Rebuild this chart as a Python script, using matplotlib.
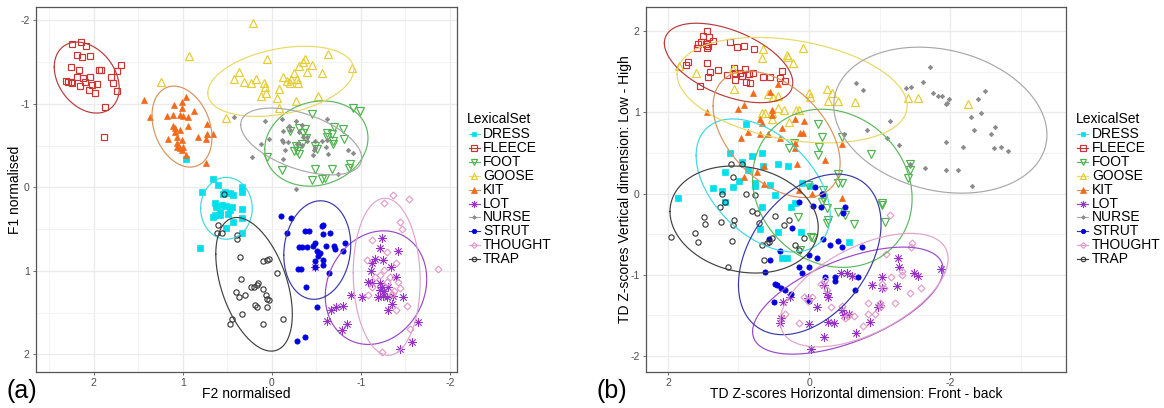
import numpy as np
import matplotlib
matplotlib.use("Agg")
import matplotlib.pyplot as plt
from matplotlib.lines import Line2D

plt.rcParams['font.family'] = ['Liberation Sans', 'DejaVu Sans']

SETS = ["DRESS", "FLEECE", "FOOT", "GOOSE", "KIT", "LOT", "NURSE", "STRUT", "THOUGHT", "TRAP"]

# ---------------- Panel (a): F2 normalised (x), F1 normalised (y) ----------------
A_F2 = {
    "DRESS": [0.66,0.61,0.78,0.55,0.44,0.47,0.34,0.34,0.64,0.63,0.56,0.51,0.45,0.47,0.64,0.58,0.49,0.33,0.33,0.66,0.44,0.51,0.33,0.81,0.53,0.58,0.96],
    "FLEECE": [2.24,2.15,2.09,2.19,2.13,2.04,2.26,2.17,1.94,1.92,1.70,1.74,2.31,2.26,2.19,2.12,2.04,2.10,2.02,1.97,2.16,2.06,1.99,1.81,1.79,1.74,1.87,1.89,2.24,2.29],
    "FOOT": [-0.45,-0.91,-0.99,-0.20,-0.31,-0.37,-0.35,-0.38,-0.62,-0.70,-0.80,-0.67,-0.62,-0.69,-0.69,-0.81,-0.27,-0.34,-0.28,-0.25,-0.31,-0.48,-0.51,-0.88,-0.87,0.06,-0.11,-0.49,-0.67,-0.45,-0.56,-0.60],
    "GOOSE": [0.06,-0.37,-0.35,-0.45,-0.63,-0.90,-0.30,-0.39,-0.56,0.37,0.43,0.31,0.24,0.18,0.09,0.08,0.12,0.07,-0.08,-0.12,-0.17,-0.22,-0.25,-0.28,-0.29,-0.20,-0.06,-0.08,-0.27,-0.52,0.52,0.21,0.93,1.25],
    "KIT": [1.44,1.37,1.18,1.11,1.10,1.01,0.96,1.01,1.00,1.03,0.94,0.87,1.11,1.09,1.03,0.94,0.73,1.17,1.07,1.01,1.07,1.03,1.00,1.01,0.97,0.83,0.73,0.66,0.74,0.74,1.07,1.09],
    "LOT": [-1.24,-1.22,-1.42,-1.16,-1.25,-1.34,-1.11,-1.40,-1.08,-1.13,-1.21,-1.24,-1.26,-1.25,-1.19,-1.29,-1.36,-1.47,-1.35,-1.31,-0.89,-1.01,-0.72,-0.80,-0.66,-0.62,-0.84,-0.79,-1.64,-1.57,-1.44,-0.49,-1.13,-1.30,-1.21],
    "NURSE": [0.43,0.08,-0.11,-0.27,-0.19,-0.34,-0.62,-0.12,-0.20,-0.31,-0.39,-0.35,-0.48,-0.56,-0.62,-0.40,0.03,0.12,-0.11,-0.13,-0.18,-0.28,-0.34,-0.48,-0.47,-0.61,0.22,-0.12,-0.15,-0.46,-0.63,-0.85,-0.91,-0.74,-0.27],
    "STRUT": [-0.10,-0.21,-0.17,-0.37,-0.42,-0.56,-0.58,-0.58,-0.65,-0.82,-0.80,-0.70,-0.71,-0.61,-0.48,-0.46,-0.40,-0.34,-0.31,-0.51,-0.54,-0.52,-0.48,-0.57,-0.58,-0.49,-0.33,-0.29,-0.64,-0.38,-0.51,-0.28,-0.37],
    "THOUGHT": [-1.36,-1.54,-1.26,-1.44,-1.46,-1.87,-1.07,-1.29,-1.39,-1.26,-1.33,-1.21,-1.42,-1.44,-1.37,-1.12,-1.35,-1.52,-1.40,-1.08,-1.55,-1.24,-1.12,-1.29,-1.16],
    "TRAP": [0.54,0.60,0.62,0.56,0.39,0.39,0.36,0.10,0.06,0.03,-0.06,0.35,0.16,0.17,0.24,0.20,0.40,0.37,0.30,0.10,0.07,0.06,0.03,0.19,0.17,0.06,0.33,0.45,0.47,0.10,-0.12],
}
A_F1 = {
    "DRESS": [-0.10,-0.03,0.06,0.08,0.09,0.07,0.00,0.06,0.19,0.24,0.21,0.22,0.24,0.27,0.33,0.33,0.32,0.26,0.37,0.36,0.42,0.48,0.54,0.72,0.06,0.30,-0.34],
    "FLEECE": [-1.72,-1.74,-1.69,-1.58,-1.56,-1.57,-1.44,-1.41,-1.41,-1.41,-1.46,-1.39,-1.27,-1.26,-1.32,-1.31,-1.32,-1.26,-1.23,-1.24,-1.21,-1.17,-1.13,-1.32,-1.25,-1.15,-0.96,-0.60,-1.25,-1.26],
    "FOOT": [-0.88,-0.95,-0.91,-0.67,-0.71,-0.70,-0.65,-0.59,-0.65,-0.72,-0.70,-0.64,-0.60,-0.55,-0.52,-0.58,-0.49,-0.52,-0.43,-0.43,-0.40,-0.49,-0.46,-0.28,-0.23,-0.36,-0.21,-0.22,-0.22,-0.09,-0.10,-0.11],
    "GOOSE": [-1.54,-1.54,-1.50,-1.46,-1.60,-1.43,-1.45,-1.38,-1.37,-1.38,-1.30,-1.26,-1.25,-1.30,-1.25,-1.20,-1.09,-1.13,-1.18,-1.32,-1.28,-1.30,-1.37,-1.30,-1.25,-1.25,-1.07,-0.95,-1.03,-1.09,-0.83,-1.97,-1.57,-1.26],
    "KIT": [-1.05,-0.84,-0.85,-0.87,-0.99,-1.02,-1.08,-0.95,-0.85,-0.87,-0.84,-0.91,-0.73,-0.71,-0.69,-0.73,-0.76,-0.58,-0.60,-0.57,-0.48,-0.47,-0.48,-0.45,-0.39,-0.60,-0.64,-0.64,-0.58,-0.29,-0.53,-0.66],
    "LOT": [0.60,0.73,0.76,0.86,0.87,0.95,1.00,1.07,1.13,1.15,1.15,1.19,1.24,1.30,1.31,1.31,1.30,1.31,1.39,1.47,1.29,1.31,1.43,1.42,1.47,1.60,1.63,1.71,1.61,1.85,1.94,0.95,0.90,1.19,1.23],
    "NURSE": [-0.84,-0.80,-0.82,-0.79,-0.73,-0.75,-0.82,-0.67,-0.69,-0.66,-0.60,-0.60,-0.55,-0.55,-0.57,-0.55,-0.58,-0.52,-0.57,-0.54,-0.54,-0.52,-0.51,-0.47,-0.45,-0.48,-0.37,-0.34,-0.45,-0.39,-0.40,-0.45,-0.41,-0.16,0.02],
    "STRUT": [0.34,0.37,0.54,0.52,0.52,0.46,0.45,0.56,0.55,0.66,0.76,0.70,0.74,0.70,0.67,0.70,0.71,0.71,0.71,0.76,0.79,0.82,0.88,0.87,0.93,0.95,0.98,0.98,1.03,1.19,1.43,1.84,1.79],
    "THOUGHT": [0.09,0.14,0.19,0.42,0.50,0.98,0.87,0.77,0.91,0.99,1.07,1.05,1.13,1.21,1.24,1.19,1.28,1.42,1.47,1.29,1.70,1.97,0.63,1.13,1.07],
    "TRAP": [0.08,0.45,0.55,0.55,0.57,0.62,0.83,0.88,0.87,0.86,1.03,1.10,1.15,1.17,1.19,1.19,1.25,1.31,1.29,1.22,1.29,1.34,1.35,1.41,1.43,1.43,1.51,1.57,1.64,1.63,1.58],
}
# ellipse (centre x, centre y, half-range x, half-range y, correlation)
A_ELLIPSE = {
    "DRESS": (0.51, 0.25, 0.29, 0.37, 0.0),
    "FLEECE": (2.08, -1.315, 0.365, 0.425, -0.3),
    "FOOT": (-0.50, -0.525, 0.58, 0.51, 0.13),
    "GOOSE": (-0.10, -1.27, 0.82, 0.42, 0.33),
    "KIT": (1.01, -0.728, 0.337, 0.485, -0.27),
    "LOT": (-1.17, 1.20, 0.57, 0.68, 0.15),
    "NURSE": (-0.33, -0.55, 0.68, 0.40, -0.5),
    "STRUT": (-0.51, 0.75, 0.376, 0.59, 0.1),
    "THOUGHT": (-1.29, 1.07, 0.376, 0.94, -0.05),
    "TRAP": (0.20, 1.16, 0.43, 0.80, -0.45),
}

# ---------------- Panel (b): TD Z-scores ----------------
B_H = {
    "DRESS": [1.86,1.36,1.23,1.19,1.08,0.99,0.86,0.76,0.76,0.67,0.55,0.48,0.44,0.30,0.20,0.25,0.69,0.44,0.38,0.31,0.11,-0.57,-0.01,0.10,0.65,0.81,0.95,1.12,0.89,0.67,1.19],
    "FLEECE": [1.44,1.50,1.42,1.36,1.53,1.46,1.43,1.59,1.57,1.44,1.12,1.02,0.92,0.78,1.71,1.74,1.44,1.40,1.29,1.16,1.06,1.05,0.95,0.91,0.85,0.79,0.89,0.84,0.65,0.55,0.38,0.41,0.34,1.43,1.54,1.05,0.98],
    "FOOT": [-0.13,-0.18,-0.47,-0.14,-0.13,0.28,0.21,-0.88,-0.41,-1.43,-1.43,-1.40,-0.41,-0.47,0.01,-0.20,-0.20,-0.18,-0.25,-0.27,0.16,-0.51,-0.64,-1.03,-1.03,-0.03,-0.06,-0.25,-0.41,-1.08,0.13],
    "GOOSE": [1.84,1.60,1.06,0.65,0.67,0.31,0.30,0.23,0.08,0.00,-0.01,-0.25,-0.33,-0.27,-0.41,-0.65,0.58,0.51,0.44,0.67,0.62,0.52,0.44,0.35,0.18,0.14,0.52,0.28,1.08,-1.40,-1.54,-2.25],
    "KIT": [1.44,1.01,0.92,0.79,0.55,0.44,0.52,0.52,0.69,0.67,0.38,0.20,0.07,0.08,0.13,0.96,0.86,0.69,0.58,0.41,0.20,0.20,-0.47,-0.23,0.17,0.64,0.92,0.74,0.64,0.14,-0.04,-0.47],
    "LOT": [-1.26,-1.27,-1.03,-0.89,-1.03,-1.25,-1.49,-1.54,-1.87,-0.45,-0.54,-0.61,-0.21,-0.25,-0.27,-0.11,0.01,0.37,0.27,-0.47,-0.57,-0.50,-1.01,-0.98,-0.86,-0.27,-0.35,0.00,0.40,0.41,-0.21,-0.67,-0.03],
    "NURSE": [-1.71,-1.61,-1.37,-1.44,-1.76,-1.83,-1.88,-1.98,-1.94,-1.96,-2.49,-2.39,-2.29,-2.44,-2.34,-2.63,-2.58,-1.94,-2.18,-2.62,-2.72,-2.82,-1.64,-1.94,-2.11,-2.31,-1.15,-1.10,-1.27,-1.43,-0.67,-0.76,-0.50,-0.82],
    "STRUT": [-0.08,-0.18,-0.20,0.14,-0.06,-0.17,-0.51,-0.48,0.24,0.57,0.55,0.62,0.41,0.00,-0.11,-0.20,-0.30,-0.41,-0.47,-0.75,0.14,0.10,0.00,-0.23,-0.37,-0.37,-0.69,-0.65,0.48,0.45,0.40,0.34,0.25,0.50,0.00],
    "THOUGHT": [-1.15,-1.46,-1.44,-1.32,-1.16,-1.32,-1.03,-1.06,-1.59,-1.43,-1.22,-1.01,-0.84,-0.84,-0.93,-0.76,-0.23,-0.17,-0.25,0.07,-0.04,0.01,0.34,0.14,-0.31,-0.47,-0.55,-0.64,-0.51,-1.09,-1.02],
    "TRAP": [1.10,0.95,1.08,1.23,1.19,1.26,0.89,0.76,0.81,0.74,1.49,1.47,1.25,1.06,1.08,1.61,1.57,1.95,1.09,0.48,0.28,0.35,0.71,0.52,0.57,0.59,0.67,0.07,0.20,0.14,0.64,1.15],
}
B_V = {
    "DRESS": [-0.06,0.07,0.03,-0.11,0.08,0.16,0.29,0.13,0.09,-0.16,0.11,-0.02,0.36,0.34,-0.12,-0.17,-0.44,-0.47,-0.79,-0.79,-0.48,-0.60,0.09,0.13,0.34,0.46,0.39,0.50,0.86,0.50,0.26],
    "FLEECE": [2.00,1.94,1.93,1.88,1.87,1.85,1.82,1.79,1.85,1.79,1.87,1.81,1.82,1.78,1.62,1.59,1.61,1.50,1.52,1.46,1.55,1.40,1.45,1.53,1.47,1.49,1.37,1.36,1.44,1.44,1.51,1.42,1.39,1.44,1.32,1.49,1.49],
    "FOOT": [0.86,0.70,0.70,0.57,0.47,0.56,0.62,0.49,0.24,0.37,0.29,0.19,0.13,0.13,0.10,0.04,-0.05,-0.10,-0.18,-0.33,-0.29,-0.27,-0.37,-0.12,-0.14,-0.54,-0.55,-0.36,-0.23,-0.35,-0.70],
    "GOOSE": [1.57,1.49,1.29,1.78,1.67,1.71,1.68,1.61,1.80,1.24,1.19,1.29,1.24,1.14,1.14,1.13,1.23,1.19,1.20,0.99,0.99,0.99,1.06,1.03,1.03,1.03,0.92,0.88,1.53,1.18,1.18,1.10],
    "KIT": [1.00,1.04,1.09,1.24,1.25,1.35,1.03,0.97,0.92,0.87,0.81,0.92,0.89,0.75,0.75,0.68,0.76,0.74,0.74,0.68,0.62,0.56,0.61,0.41,0.37,0.34,0.21,0.26,0.12,0.04,-0.01,-0.06],
    "LOT": [-0.79,-0.90,-1.03,-1.13,-1.16,-1.14,-0.98,-1.02,-0.93,-0.98,-0.98,-1.02,-1.13,-1.22,-1.28,-1.40,-1.29,-1.34,-1.28,-1.43,-1.48,-1.50,-1.38,-1.40,-1.58,-1.58,-1.60,-1.61,-1.54,-1.60,-1.77,-1.72,-1.92],
    "NURSE": [1.56,1.37,1.30,1.31,1.24,1.20,1.20,1.16,1.11,1.12,1.26,1.16,0.94,0.99,0.78,0.82,0.74,0.63,0.57,0.56,0.58,0.52,0.31,0.29,0.29,0.09,0.89,0.68,0.60,0.37,1.36,1.28,0.74,0.78],
    "STRUT": [0.08,0.00,-0.01,-0.11,-0.15,-0.17,-0.16,-0.24,-0.43,-0.56,-0.82,-0.97,-0.71,-0.76,-0.80,-0.56,-0.63,-0.59,-0.66,-0.66,-0.91,-0.98,-0.91,-1.03,-1.03,-1.08,-1.03,-1.19,-1.11,-1.13,-1.17,-1.19,-1.24,-1.34,-1.32],
    "THOUGHT": [-0.27,-0.61,-0.66,-0.95,-1.03,-1.00,-1.12,-1.16,-1.16,-1.23,-1.35,-1.35,-1.35,-1.48,-1.48,-1.63,-1.07,-1.11,-1.19,-1.28,-1.28,-1.32,-1.48,-1.60,-1.40,-1.39,-1.51,-1.51,-1.54,-0.75,-1.39],
    "TRAP": [0.37,0.36,0.20,0.00,-0.10,-0.16,0.00,-0.02,-0.21,-0.24,-0.29,-0.38,-0.35,-0.33,-0.39,-0.49,-0.60,-0.54,-0.59,-0.28,-0.32,-0.39,-0.36,-0.55,-0.60,-0.61,-0.64,-0.55,-0.63,-0.70,-0.82,-0.90],
}
B_ELLIPSE = {
    "DRESS": (0.65, 0.10, 0.95, 0.82, 0.45),
    "FLEECE": (1.14, 1.61, 0.91, 0.49, 0.5),
    "FOOT": (-0.33, 0.065, 1.13, 0.975, 0.13),
    "GOOSE": (0.24, 1.275, 1.63, 0.65, 0.3),
    "KIT": (0.46, 0.73, 0.90, 0.78, 0.45),
    "LOT": (-0.55, -1.32, 1.35, 0.66, -0.58),
    "NURSE": (-1.86, 0.905, 1.51, 0.90, 0.2),
    "STRUT": (-0.01, -0.75, 1.01, 0.99, -0.38),
    "THOUGHT": (-0.78, -1.19, 1.19, 0.70, -0.55),
    "TRAP": (0.92, -0.32, 1.05, 0.66, 0.15),
}

A_XTICKS = [2, 1, 0, -1, -2]
A_YTICKS = [-2, -1, 0, 1, 2]
B_XTICKS = [2, 0, -2]
B_YTICKS = [-2, -1, 0, 1, 2]

# ---------------- styles ----------------
MARK = {
    "DRESS": dict(marker='s', fill=True, color='#00E0EC', ms=4.2, mew=0.5),
    "FLEECE": dict(marker='s', fill=False, color='#CC3333', ms=4.7, mew=0.85),
    "FOOT": dict(marker='v', fill=False, color='#4DB34D', ms=5.4, mew=0.85),
    "GOOSE": dict(marker='^', fill=False, color='#E6CC2E', ms=5.4, mew=0.85),
    "KIT": dict(marker='^', fill=True, color='#F26A1B', ms=5.0, mew=0.5),
    "LOT": dict(marker=(8, 2, 0), fill=False, color='#9632C8', ms=6.0, mew=0.6),
    "NURSE": dict(marker='D', fill=True, color='#8A8A8A', ms=2.3, mew=0.5),
    "STRUT": dict(marker='o', fill=True, color='#0000E0', ms=3.8, mew=0.5),
    "THOUGHT": dict(marker='D', fill=False, color='#E59CC8', ms=3.5, mew=0.85),
    "TRAP": dict(marker='o', fill=False, color='#333333', ms=3.8, mew=0.8),
}
ELL_COLOR = {
    "DRESS": '#3CD8E2', "FLEECE": '#B83A3A', "FOOT": '#5CB85C', "GOOSE": '#EAD860',
    "KIT": '#D9925A', "LOT": '#9A48C8', "NURSE": '#A8A8A8', "STRUT": '#3838A8',
    "THOUGHT": '#E2A2CC', "TRAP": '#404040',
}

W, H = 1164, 408
fig = plt.figure(figsize=(W / 100, H / 100), dpi=100)


def px_axes(l, t, r, b):
    return fig.add_axes([l / W, 1 - b / H, (r - l) / W, (b - t) / H])


def draw_points(ax, xs, ys):
    for s in SETS:
        st = MARK[s]
        ax.plot(xs[s], ys[s], linestyle='none', marker=st['marker'], ms=st['ms'],
                mec=st['color'], mfc=st['color'] if st['fill'] else 'none',
                mew=st['mew'], zorder=3)


def draw_ellipses(ax, params):
    t = np.linspace(0, 2 * np.pi, 240)
    for s in SETS:
        cx, cy, sx, sy, rho = params[s]
        ex = cx + sx * np.cos(t)
        ey = cy + sy * (rho * np.cos(t) + np.sqrt(1 - rho ** 2) * np.sin(t))
        ax.plot(ex, ey, color=ELL_COLOR[s], lw=0.85, zorder=4)


def style_axes(ax, xlim, ylim, xt, yt, xminor, yminor):
    ax.set_xlim(*xlim)
    ax.set_ylim(*ylim)
    ax.set_xticks(xt)
    ax.set_xticklabels([str(v) for v in xt])
    ax.set_yticks(yt)
    ax.set_yticklabels([str(v) for v in yt])
    ax.set_xticks(xminor, minor=True)
    ax.set_yticks(yminor, minor=True)
    ax.grid(which='major', color='#EBEBEB', lw=1.0)
    ax.grid(which='minor', color='#F3F3F3', lw=0.7)
    ax.set_axisbelow(True)
    ax.tick_params(which='major', length=2.5, width=0.5, color='#333333',
                   labelsize=7.5, labelcolor='#4D4D4D', pad=2)
    ax.tick_params(which='minor', length=0)
    for sp in ax.spines.values():
        sp.set_color('#555555')
        sp.set_linewidth(0.9)


# Panel (a)
axA = px_axes(36, 7, 457, 372)
draw_points(axA, A_F2, A_F1)
draw_ellipses(axA, A_ELLIPSE)
style_axes(axA, (2.65, -2.08), (2.21, -2.16), A_XTICKS, A_YTICKS,
           [2.5, 1.5, 0.5, -0.5, -1.5], [-1.5, -0.5, 0.5, 1.5])
axA.set_xlabel("F2 normalised", fontsize=10)
axA.set_ylabel("F1 normalised", fontsize=10)
axA.xaxis.set_label_coords(0.5, -0.041)
axA.yaxis.set_label_coords(-0.033, 0.5)

# Panel (b)
axB = px_axes(646, 7, 1066, 372)
draw_points(axB, B_H, B_V)
draw_ellipses(axB, B_ELLIPSE)
style_axes(axB, (2.31, -3.64), (-2.20, 2.30), B_XTICKS, B_YTICKS,
           [1, -1, -3], [-1.5, -0.5, 0.5, 1.5])
axB.set_xlabel("TD Z-scores Horizontal dimension: Front - back", fontsize=10)
axB.set_ylabel("TD Z-scores Vertical dimension: Low - High", fontsize=10)
axB.xaxis.set_label_coords(0.5, -0.041)
axB.yaxis.set_label_coords(-0.033, 0.5)


# legends (drawn manually to match ggplot's compact layout)
def draw_legend(title_x, key_x, text_x):
    fig.text(title_x / W, 1 - 119 / H, "LexicalSet", fontsize=10, va='center', ha='left')
    for i, s in enumerate(SETS):
        yy = 1 - (134 + 13.9 * i) / H
        st = MARK[s]
        fig.add_artist(Line2D([(key_x - 5.5) / W, (key_x + 5.5) / W], [yy, yy],
                              transform=fig.transFigure, color=ELL_COLOR[s], lw=0.85))
        fig.add_artist(Line2D([key_x / W], [yy], transform=fig.transFigure,
                              linestyle='none', marker=st['marker'], ms=st['ms'] * 0.85,
                              mec=st['color'], mfc=st['color'] if st['fill'] else 'none',
                              mew=st['mew']))
        fig.text(text_x / W, yy, s, fontsize=10, va='center', ha='left')


draw_legend(467, 474, 483)
draw_legend(1076, 1082.5, 1092)

fig.text(6 / W, 1 - 391 / H, "(a)", fontsize=18, va='center', ha='left')
fig.text(596 / W, 1 - 391 / H, "(b)", fontsize=18, va='center', ha='left')

fig.savefig("out.png", dpi=100)
